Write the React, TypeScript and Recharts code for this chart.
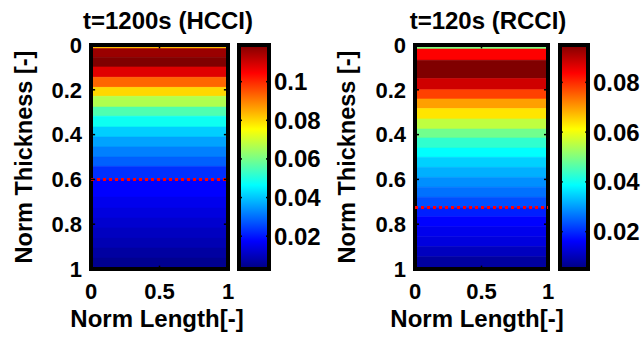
import { ComposedChart, ReferenceArea, ReferenceLine, XAxis, YAxis } from 'recharts'

const W = 641
const H = 337
const TOP = 45
const BOTTOM = 269
const FONT = "'Liberation Sans', Arial, sans-serif"

const depthTicks = [0, 0.2, 0.4, 0.6, 0.8, 1]
const lengthTicks = [0, 0.5, 1]
const innerDepthTicks = [0.2, 0.4, 0.6, 0.8]

// HCCI, t=1200s: contour band edges (norm thickness) and band level values
const hcciEdges = [
  0, 0.016, 0.055, 0.098, 0.144, 0.189, 0.229, 0.277, 0.318, 0.366, 0.411, 0.455,
  0.5, 0.542, 0.6, 0.679, 0.728, 0.772, 0.817, 0.862, 0.906, 0.951, 1,
]
const hcciValues = [
  0.0828, 0.116, 0.119, 0.108, 0.093, 0.08, 0.0665, 0.0555, 0.048, 0.041, 0.036,
  0.032, 0.0284, 0.023, 0.0175, 0.0155, 0.0138, 0.012, 0.0103, 0.0088, 0.0068, 0.005,
]
const hcciRange = [0.003, 0.119]
const hcciBarTicks = [0.02, 0.04, 0.06, 0.08, 0.1]
const hcciFront = 0.6

// RCCI, t=120s
const rcciEdges = [
  0, 0.018, 0.068, 0.15, 0.2, 0.241, 0.284, 0.33, 0.375, 0.415, 0.46, 0.501, 0.546,
  0.591, 0.635, 0.68, 0.725, 0.767, 0.811, 0.856, 0.9, 0.945, 1,
]
const rcciValues = [
  0.05, 0.0838, 0.095, 0.088, 0.078, 0.0696, 0.0635, 0.0556, 0.0487, 0.043, 0.0388,
  0.0347, 0.0318, 0.0289, 0.0262, 0.0232, 0.019, 0.0163, 0.0147, 0.0133, 0.0106, 0.0079,
]
const rcciRange = [0.005, 0.095]
const rcciBarTicks = [0.02, 0.04, 0.06, 0.08]
const rcciFront = 0.725

const lengthData = lengthTicks.map((x) => ({ x }))

const jet = (t: number) => {
  const c = (v: number) => Math.round(255 * Math.max(0, Math.min(1, v)))
  return `rgb(${c(1.5 - Math.abs(4 * t - 3))},${c(1.5 - Math.abs(4 * t - 2))},${c(
    1.5 - Math.abs(4 * t - 1),
  )})`
}

const tickStyle = { fill: '#000', fontSize: 22, fontWeight: 700, fontFamily: FONT }
const barTickStyle = { fill: '#000', fontSize: 24, fontWeight: 700, fontFamily: FONT }
const textStyle = { fill: '#000', fontWeight: 700, fontFamily: FONT }

type PanelProps = {
  title: string
  edges: number[]
  values: number[]
  range: number[]
  barTicks: number[]
  front: number
  plotLeft: number
  plotRight: number
  barLeft: number
  barRight: number
  titleX: number
  yLabelX: number
  xLabelX: number
  gradId: string
}

function ContourPanel(p: PanelProps) {
  const [lo, hi] = p.range
  return (
    <>
      <div style={{ position: 'absolute', left: 0, top: 0 }}>
        <ComposedChart
          width={W}
          height={H}
          data={lengthData}
          margin={{ top: TOP, right: W - p.plotRight, bottom: 0, left: 0 }}
        >
          <XAxis
            dataKey="x"
            type="number"
            domain={[0, 1]}
            allowDataOverflow
            ticks={lengthTicks}
            interval={0}
            height={H - BOTTOM}
            tickSize={0}
            tickMargin={14}
            axisLine={false}
            tick={tickStyle}
          />
          <YAxis
            type="number"
            domain={[0, 1]}
            allowDataOverflow
            reversed
            ticks={depthTicks}
            interval={0}
            width={p.plotLeft}
            tickSize={0}
            tickMargin={9}
            axisLine={false}
            tick={tickStyle}
          />
          {p.values.map((v, i) => {
            const col = jet((v - lo) / (hi - lo))
            return (
              <ReferenceArea
                key={i}
                x1={0}
                x2={1}
                y1={p.edges[i]}
                y2={p.edges[i + 1]}
                fill={col}
                fillOpacity={1}
                stroke={col}
                strokeWidth={0.6}
                ifOverflow="visible"
              />
            )
          })}
          <ReferenceLine y={p.front} stroke="#ff0000" strokeWidth={3} strokeDasharray="3 3" />
          {innerDepthTicks.map((d) => (
            <ReferenceLine
              key={`l${d}`}
              segment={[{ x: 0, y: d }, { x: 0.03, y: d }]}
              stroke="#000"
              strokeWidth={1.5}
            />
          ))}
          {innerDepthTicks.map((d) => (
            <ReferenceLine
              key={`r${d}`}
              segment={[{ x: 0.97, y: d }, { x: 1, y: d }]}
              stroke="#000"
              strokeWidth={1.5}
            />
          ))}
          <ReferenceLine segment={[{ x: 0.5, y: 0 }, { x: 0.5, y: 0.015 }]} stroke="#000" strokeWidth={1.5} />
          <ReferenceLine segment={[{ x: 0.5, y: 0.985 }, { x: 0.5, y: 1 }]} stroke="#000" strokeWidth={1.5} />
          <ReferenceArea x1={0} x2={1} y1={0} y2={1} fill="none" stroke="#000" strokeWidth={4} ifOverflow="visible" />
          <text x={p.titleX} y={29} textAnchor="middle" fontSize={24} {...textStyle}>
            {p.title}
          </text>
          <text
            x={p.yLabelX}
            y={157}
            transform={`rotate(-90 ${p.yLabelX} 157)`}
            textAnchor="middle"
            fontSize={23.5}
            {...textStyle}
          >
            Norm Thickness [-]
          </text>
          <text x={p.xLabelX} y={327} textAnchor="middle" fontSize={24} {...textStyle}>
            Norm Length[-]
          </text>
        </ComposedChart>
      </div>
      <div style={{ position: 'absolute', left: 0, top: 0 }}>
        <ComposedChart
          width={W}
          height={H}
          data={lengthData}
          margin={{ top: TOP, right: 0, bottom: H - BOTTOM, left: p.barLeft }}
        >
          <defs>
            <linearGradient id={p.gradId} x1="0" x2="0" y1="0" y2="1">
              <stop offset="0" stopColor="#800000" />
              <stop offset="0.125" stopColor="#ff0000" />
              <stop offset="0.375" stopColor="#ffff00" />
              <stop offset="0.5" stopColor="#80ff80" />
              <stop offset="0.625" stopColor="#00ffff" />
              <stop offset="0.875" stopColor="#0000ff" />
              <stop offset="1" stopColor="#000080" />
            </linearGradient>
          </defs>
          <XAxis dataKey="x" type="number" domain={[0, 1]} allowDataOverflow hide />
          <YAxis
            orientation="right"
            type="number"
            domain={[lo, hi]}
            ticks={p.barTicks}
            interval={0}
            width={W - p.barRight}
            tickSize={0}
            tickMargin={5}
            axisLine={false}
            tick={barTickStyle}
            allowDataOverflow
          />
          <ReferenceArea
            x1={0}
            x2={1}
            y1={lo}
            y2={hi}
            fill={`url(#${p.gradId})`}
            fillOpacity={1}
            ifOverflow="visible"
          />
          {p.barTicks.map((t) => (
            <ReferenceLine key={`bl${t}`} segment={[{ x: 0, y: t }, { x: 0.1, y: t }]} stroke="#000" strokeWidth={1.5} />
          ))}
          {p.barTicks.map((t) => (
            <ReferenceLine key={`br${t}`} segment={[{ x: 0.9, y: t }, { x: 1, y: t }]} stroke="#000" strokeWidth={1.5} />
          ))}
          <ReferenceArea x1={0} x2={1} y1={lo} y2={hi} fill="none" stroke="#000" strokeWidth={4} ifOverflow="visible" />
        </ComposedChart>
      </div>
    </>
  )
}

export default function App() {
  return (
    <div
      style={{
        position: 'absolute',
        left: 0,
        top: 0,
        width: W,
        height: H,
        background: '#fff',
        fontFamily: FONT,
      }}
    >
      <ContourPanel
        title="t=1200s (HCCI)"
        edges={hcciEdges}
        values={hcciValues}
        range={hcciRange}
        barTicks={hcciBarTicks}
        front={hcciFront}
        plotLeft={91}
        plotRight={228}
        barLeft={239}
        barRight={269}
        titleX={168}
        yLabelX={32}
        xLabelX={157}
        gradId="jetHcci"
      />
      <ContourPanel
        title="t=120s (RCCI)"
        edges={rcciEdges}
        values={rcciValues}
        range={rcciRange}
        barTicks={rcciBarTicks}
        front={rcciFront}
        plotLeft={415}
        plotRight={548}
        barLeft={560}
        barRight={588}
        titleX={488}
        yLabelX={355}
        xLabelX={477}
        gradId="jetRcci"
      />
    </div>
  )
}
